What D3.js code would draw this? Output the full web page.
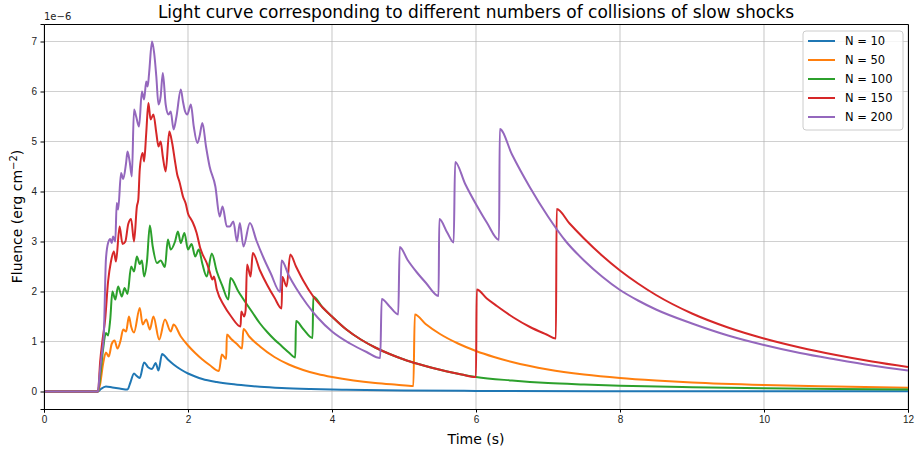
<!DOCTYPE html>
<html lang="en">
<head>
  <meta charset="utf-8">
  <title>Light curve</title>
  <script src="https://d3js.org/d3.v7.min.js"></script>
  <style>
    body { margin: 0; background: #fff; }
    svg { font-family: "DejaVu Sans", sans-serif; }
    .grid line { stroke: #b0b0b0; stroke-opacity: 0.6; stroke-width: 1.2px; }
    .axis path, .axis line { stroke: #000; stroke-width: 1px; }
    .axis text { font-size: 10px; fill: #222; }
    .line { fill: none; stroke-width: 2px; stroke-linejoin: round; }
  </style>
</head>
<body>
<svg width="917" height="451"></svg>
<script>
// fluence values are in units of 1e-6 erg cm^-2, time in s
var labels = ["N = 10", "N = 50", "N = 100", "N = 150", "N = 200"];
var colors = ["#1f77b4", "#ff7f0e", "#2ca02c", "#d62728", "#9467bd"];
var xTicks = [0, 2, 4, 6, 8, 10, 12];
var yTicks = [0, 1, 2, 3, 4, 5, 6, 7];

var n10 = [[0,0],[0.75,0],[0.79,0.05],[0.86,0.10],[0.95,0.08],[1.05,0.06],[1.16,0.04],[1.2,0.18],[1.25,0.36],
  [1.28,0.32],[1.33,0.27],[1.39,0.58],[1.45,0.48],[1.5,0.45],[1.55,0.57],[1.59,0.42],[1.64,0.75],[1.72,0.64],
  [1.8,0.54],[1.9,0.44],[2.0,0.36],[2.1,0.3],[2.2,0.25],[2.4,0.19],[2.6,0.15],[2.8,0.12],[3.0,0.095],[3.3,0.07],
  [3.7,0.05],[4.2,0.035],[5,0.02],[6,0.012],[8,0.006],[10,0.004],[12,0.003]];

var n50 = [[0,0],[0.75,0],[0.78,0.15],[0.82,0.55],[0.86,0.78],[0.9,0.7],[0.94,0.95],[0.98,1.02],[1.02,0.86],
  [1.06,1.0],[1.1,1.24],[1.14,1.2],[1.18,1.5],[1.21,1.3],[1.25,1.18],[1.33,1.67],[1.37,1.34],[1.42,1.44],
  [1.47,1.24],[1.52,1.5],[1.6,1.04],[1.68,1.44],[1.76,1.2],[1.8,1.34],[1.9,1.1],[2.0,0.92],[2.1,0.77],[2.2,0.64],
  [2.3,0.53],[2.43,0.41],[2.47,0.74],[2.53,0.65],[2.54,1.14],[2.6,1.05],[2.68,0.95],[2.75,0.86],[2.77,1.25],
  [2.85,1.1],[3.0,0.9],[3.2,0.69],[3.4,0.54],[3.6,0.43],[3.8,0.35],[4.0,0.29],[4.3,0.22],[4.6,0.17],[4.9,0.135],
  [5.13,0.11],[5.15,1.54],[5.3,1.35],[5.5,1.15],[5.75,0.96],[6.0,0.81],[6.25,0.69],[6.5,0.59],[7.0,0.44],
  [7.5,0.34],[8.0,0.27],[8.5,0.22],[9,0.18],[10,0.13],[11,0.1],[12,0.075]];

var n100 = [[0,0],[0.75,0],[0.78,0.3],[0.82,0.84],[0.86,1.17],[0.89,1.12],[0.92,1.44],[0.95,2.0],[0.99,1.84],
  [1.03,2.1],[1.08,1.9],[1.12,2.07],[1.16,1.95],[1.21,2.5],[1.25,2.4],[1.29,2.7],[1.33,2.55],[1.36,2.62],
  [1.39,2.3],[1.43,2.6],[1.47,3.32],[1.51,2.9],[1.57,2.57],[1.62,2.62],[1.68,2.49],[1.72,3.04],[1.76,2.84],
  [1.82,3.0],[1.86,3.2],[1.9,2.97],[1.95,3.17],[2.0,2.84],[2.05,2.95],[2.1,2.7],[2.15,2.84],[2.2,2.55],
  [2.26,2.3],[2.33,2.76],[2.4,2.4],[2.48,2.1],[2.56,1.84],[2.59,2.27],[2.7,2.0],[2.8,1.78],[2.9,1.57],[3.0,1.36],
  [3.1,1.19],[3.2,1.04],[3.3,0.91],[3.4,0.78],[3.49,0.68],[3.5,1.41],[3.6,1.25],[3.73,1.07],[3.74,1.9],[3.87,1.68],
  [4.0,1.5],[4.2,1.24],[4.4,1.04],[4.6,0.88],[4.8,0.75],[5.0,0.64],[5.2,0.55],[5.4,0.47],[5.6,0.4],[5.8,0.34],
  [6.0,0.29],[6.5,0.22],[7.0,0.17],[7.5,0.14],[8,0.115],[9,0.085],[10,0.065],[11,0.05],[12,0.04]];

var n150 = [[0,0],[0.75,0],[0.78,0.6],[0.81,1.0],[0.85,1.45],[0.89,2.2],[0.93,2.6],[0.97,2.8],[1.0,2.6],
  [1.05,3.3],[1.09,2.95],[1.13,3.0],[1.17,3.35],[1.21,3.45],[1.25,3.0],[1.29,3.7],[1.31,3.84],[1.33,4.44],
  [1.37,4.77],[1.39,4.6],[1.42,5.17],[1.45,5.77],[1.48,5.44],[1.52,5.54],[1.56,5.17],[1.59,4.9],[1.62,5.0],
  [1.65,4.7],[1.69,4.4],[1.74,5.2],[1.78,4.97],[1.82,4.6],[1.85,4.34],[1.88,4.2],[1.93,3.9],[1.97,3.75],
  [2.0,3.56],[2.04,3.45],[2.07,3.37],[2.12,3.17],[2.17,2.87],[2.2,2.75],[2.26,2.57],[2.3,2.4],[2.34,2.24],
  [2.36,2.3],[2.4,2.04],[2.5,1.72],[2.6,1.5],[2.73,1.3],[2.74,1.6],[2.78,1.5],[2.8,1.62],[2.82,2.54],[2.87,2.3],
  [2.9,2.77],[3.0,2.42],[3.1,2.13],[3.2,1.88],[3.3,1.66],[3.31,2.29],[3.37,2.1],[3.42,2.74],[3.5,2.5],[3.6,2.22],
  [3.74,1.9],[3.87,1.68],[4.0,1.5],[4.2,1.24],[4.4,1.04],[4.6,0.88],[4.8,0.75],[5.0,0.64],[5.2,0.55],[5.4,0.47],
  [5.6,0.4],[5.8,0.34],[6.0,0.29],[6.01,2.04],[6.15,1.86],[6.29,1.71],[6.52,1.48],[6.75,1.29],[6.98,1.14],
  [7.11,1.06],[7.12,3.65],[7.3,3.36],[7.5,3.06],[7.75,2.72],[8.0,2.42],[8.25,2.16],[8.5,1.93],[9,1.56],[9.5,1.28],
  [10,1.06],[10.5,0.88],[11,0.73],[11.5,0.6],[12,0.49]];

var n200 = [[0,0],[0.75,0],[0.77,0.3],[0.8,0.71],[0.83,1.1],[0.86,2.64],[0.89,2.97],[0.92,3.05],[0.94,2.97],
  [0.96,3.1],[0.99,3.0],[1.01,3.77],[1.03,3.64],[1.07,4.37],[1.1,4.25],[1.14,4.57],[1.16,4.8],[1.19,4.6],
  [1.22,4.3],[1.25,5.64],[1.28,5.5],[1.32,5.3],[1.36,6.0],[1.39,5.84],[1.42,6.2],[1.44,6.1],[1.46,6.37],[1.5,7.0],
  [1.53,6.77],[1.56,6.3],[1.59,5.74],[1.62,5.9],[1.65,6.37],[1.69,5.74],[1.73,5.54],[1.76,5.6],[1.8,5.24],
  [1.84,5.5],[1.9,6.04],[1.93,5.8],[1.96,5.6],[1.99,5.54],[2.04,5.74],[2.08,5.3],[2.13,4.97],[2.16,5.1],[2.2,5.37],
  [2.25,4.9],[2.3,4.5],[2.38,4.1],[2.44,3.5],[2.48,3.7],[2.54,3.3],[2.58,3.3],[2.63,3.4],[2.68,3.0],[2.72,3.37],
  [2.77,2.9],[2.86,3.37],[2.95,3.02],[3.05,2.67],[3.15,2.36],[3.28,1.99],[3.3,2.62],[3.4,2.32],[3.5,2.07],
  [3.65,1.75],[3.8,1.48],[4.0,1.2],[4.25,0.96],[4.48,0.79],[4.67,0.67],[4.69,1.85],[4.8,1.7],[4.92,1.54],
  [4.94,2.89],[5.05,2.63],[5.18,2.38],[5.3,2.18],[5.48,1.91],[5.49,3.45],[5.6,3.18],[5.69,2.98],[5.71,4.59],
  [5.85,4.15],[6.01,3.72],[6.15,3.38],[6.32,3.03],[6.33,5.25],[6.5,4.74],[6.75,4.08],[7.0,3.5],[7.25,3.0],
  [7.5,2.62],[7.75,2.3],[8.0,2.03],[8.25,1.82],[8.5,1.64],[9,1.36],[9.5,1.12],[10,0.93],[10.5,0.77],[11,0.64],
  [11.5,0.52],[12,0.42]];

var series = [n10, n50, n100, n150, n200];

var svg = d3.select("svg"),
    margin = {top: 24, right: 9, bottom: 42, left: 44},
    width = +svg.attr("width") - margin.left - margin.right,
    height = +svg.attr("height") - margin.top - margin.bottom,
    g = svg.append("g").attr("transform", "translate(" + margin.left + "," + margin.top + ")");

var x = d3.scaleLinear().domain([0, 12]).range([0, width]),
    y = d3.scaleLinear().domain([-0.35, 7.35]).range([height, 0]);

var line = d3.line()
    .curve(d3.curveMonotoneX)
    .x(function(d) { return x(d[0]); })
    .y(function(d) { return y(d[1]); });

// grid
g.append("g").attr("class", "grid")
  .selectAll("line.v").data(xTicks).enter().append("line")
    .attr("x1", function(d) { return x(d); }).attr("x2", function(d) { return x(d); })
    .attr("y1", 0).attr("y2", height);
g.select(".grid")
  .selectAll("line.h").data(yTicks).enter().append("line")
    .attr("y1", function(d) { return y(d); }).attr("y2", function(d) { return y(d); })
    .attr("x1", 0).attr("x2", width);

g.append("clipPath").attr("id", "clip")
  .append("rect").attr("width", width).attr("height", height);

g.append("g").attr("clip-path", "url(#clip)")
  .selectAll("path").data(series).enter().append("path")
    .attr("class", "line")
    .attr("d", line)
    .style("stroke", function(d, i) { return colors[i]; });

// axes
g.append("g").attr("class", "axis")
  .attr("transform", "translate(0," + height + ")")
  .call(d3.axisBottom(x).tickValues(xTicks).tickSize(3.5).tickPadding(3.5).tickFormat(d3.format("d")));
g.append("g").attr("class", "axis")
  .call(d3.axisLeft(y).tickValues(yTicks).tickSize(3.5).tickPadding(3.5).tickFormat(d3.format("d")));
g.append("g").attr("class", "axis")
  .attr("transform", "translate(" + width + ",0)")
  .call(d3.axisRight(y).tickValues([]).tickSizeOuter(0));
g.append("g").attr("class", "axis")
  .call(d3.axisTop(x).tickValues([]).tickSizeOuter(0));

g.append("text")
  .attr("x", 0).attr("y", -4)
  .style("font-size", "10px").style("fill", "#222")
  .text("1e\u22126");

// title and axis labels
svg.append("text")
  .attr("x", margin.left + width / 2).attr("y", 18)
  .attr("text-anchor", "middle")
  .style("font-size", "17px")
  .text("Light curve corresponding to different numbers of collisions of slow shocks");

svg.append("text")
  .attr("x", margin.left + width / 2).attr("y", 444)
  .attr("text-anchor", "middle")
  .style("font-size", "14px")
  .text("Time (s)");

var yl = svg.append("text")
  .attr("transform", "translate(22," + (margin.top + height / 2) + ") rotate(-90)")
  .attr("text-anchor", "middle")
  .style("font-size", "14px");
yl.append("tspan").text("Fluence (erg cm");
yl.append("tspan").attr("dy", -5).style("font-size", "10px").text("\u22122");
yl.append("tspan").attr("dy", 5).text(")");

// legend
var legend = g.append("g").attr("transform", "translate(" + (width - 105) + ",7)");
legend.append("rect")
  .attr("width", 100).attr("height", 99).attr("rx", 3)
  .style("fill", "#fff").style("fill-opacity", 0.8)
  .style("stroke", "#ccc");
var items = legend.selectAll("g.item").data(labels).enter().append("g")
  .attr("transform", function(d, i) { return "translate(0," + (10 + i * 19) + ")"; });
items.append("line")
  .attr("x1", 5).attr("x2", 32)
  .style("stroke", function(d, i) { return colors[i]; })
  .style("stroke-width", 2);
items.append("text")
  .attr("x", 42).attr("dy", "0.35em")
  .style("font-size", "11.5px")
  .text(function(d) { return d; });
</script>
</body>
</html>
